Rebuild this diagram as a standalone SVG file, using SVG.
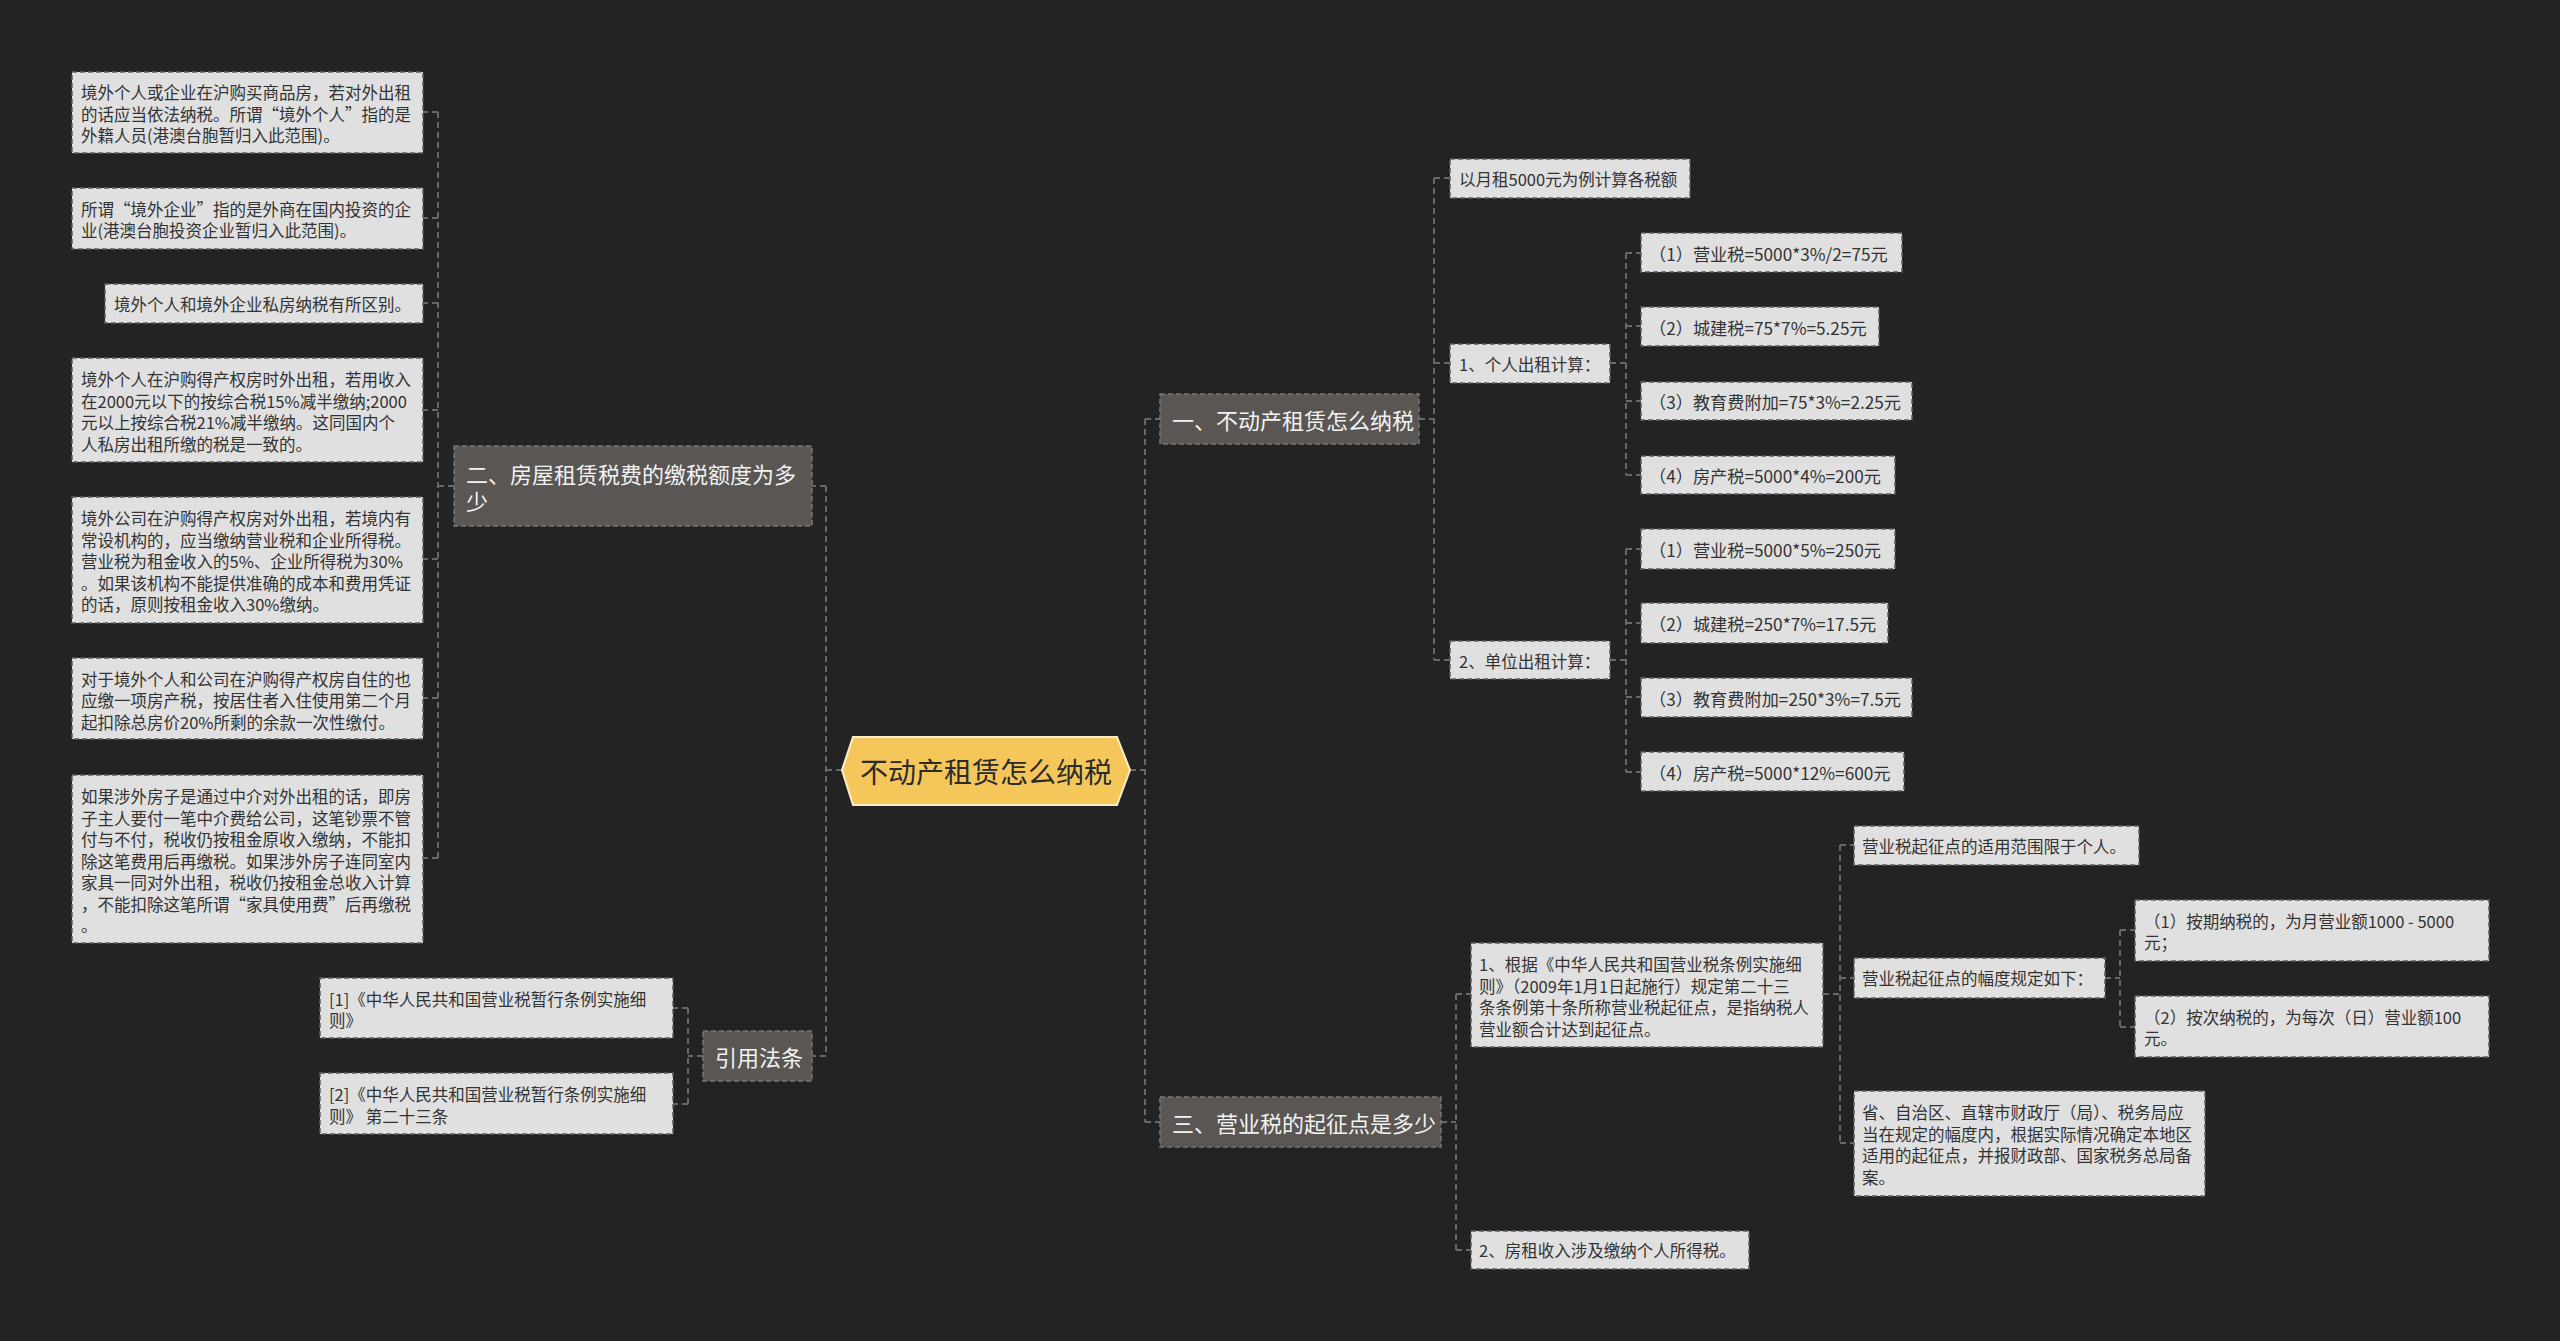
<svg xmlns="http://www.w3.org/2000/svg" width="2560" height="1341" viewBox="0 0 2560 1341">
<style>
.bg{fill:#232323}
.leaf{fill:#e0e0e0;stroke:#5e5e5e;stroke-width:1.5;stroke-dasharray:5 3}
.br{fill:#5a5653;stroke:#7a7672;stroke-width:1.5;stroke-dasharray:5 3}
.lt{font-family:"Noto Sans CJK SC","Noto Sans",sans-serif;font-size:16.5px;fill:#333;dominant-baseline:central}
.ft{font-size:17.2px}
.bt{font-family:"Noto Sans CJK SC","Noto Sans",sans-serif;font-size:22px;fill:#f2f2f2;dominant-baseline:central}
.ct{font-family:"Noto Sans CJK SC","Noto Sans",sans-serif;font-size:28px;fill:#2b2b2b;dominant-baseline:central}
.cn{fill:none;stroke:#686868;stroke-width:2;stroke-dasharray:6 4}
</style>
<rect class="bg" x="0" y="0" width="2560" height="1341"/>

<g id="connectors">
<path class="cn" d="M842 770 H826 M1130 770 H1145"/>
<path class="cn" d="M826 486 V1056 M826 486 H812 M826 1056 H812"/>
<path class="cn" d="M1145 419 V1122 M1145 419 H1160 M1145 1122 H1160"/>
<path class="cn" d="M454 486 H438 M438 112 V858 M438 112 H423 M438 218 H423 M438 303 H423 M438 410 H423 M438 559 H423 M438 698 H423 M438 858 H423"/>
<path class="cn" d="M703 1056 H688 M688 1008 V1104 M688 1008 H673 M688 1104 H673"/>
<path class="cn" d="M1419 419 H1434 M1434 178 V660 M1434 178 H1450 M1434 363 H1450 M1434 660 H1450"/>
<path class="cn" d="M1610 363 H1626 M1626 253 V475 M1626 253 H1641 M1626 326 H1641 M1626 401 H1641 M1626 475 H1641"/>
<path class="cn" d="M1610 660 H1626 M1626 549 V772 M1626 549 H1641 M1626 623 H1641 M1626 697 H1641 M1626 772 H1641"/>
<path class="cn" d="M1441 1122 H1456 M1456 994 V1250 M1456 994 H1471 M1456 1250 H1471"/>
<path class="cn" d="M1823 994 H1840 M1840 845 V1143 M1840 845 H1854 M1840 978 H1854 M1840 1143 H1854"/>
<path class="cn" d="M2105 978 H2120 M2120 930 V1027 M2120 930 H2135 M2120 1027 H2135"/>
</g>

<g id="center">
<polygon points="842,770 853,737 1117,737 1130,770 1117,805 853,805" fill="#f5c75b" stroke="#fbeec6" stroke-width="2"/>
<text class="ct" x="986" y="771" text-anchor="middle">不动产租赁怎么纳税</text>
</g>

<g id="b1">
<rect class="br" x="1160" y="394" width="259" height="50"/>
<text class="bt" x="1172" y="419">一、不动产租赁怎么纳税</text>
</g>
<g id="b2">
<rect class="br" x="454" y="446" width="358" height="80"/>
<text class="bt" x="466" y="473">二、房屋租赁税费的缴税额度为多</text>
<text class="bt" x="466" y="500">少</text>
</g>
<g id="b3">
<rect class="br" x="1160" y="1097" width="281" height="50"/>
<text class="bt" x="1172" y="1122">三、营业税的起征点是多少</text>
</g>
<g id="b4">
<rect class="br" x="703" y="1031" width="109" height="50"/>
<text class="bt" x="715" y="1056">引用法条</text>
</g>

<g id="l1">
<rect class="leaf" x="72" y="72" width="351" height="81"/>
<text class="lt" x="81" y="92">境外个人或企业在沪购买商品房，若对外出租</text>
<text class="lt" x="81" y="113.5">的话应当依法纳税。所谓“境外个人”指的是</text>
<text class="lt" x="81" y="135">外籍人员(港澳台胞暂归入此范围)。</text>
</g>
<g id="l2">
<rect class="leaf" x="72" y="188" width="351" height="61"/>
<text class="lt" x="81" y="208.5">所谓“境外企业”指的是外商在国内投资的企</text>
<text class="lt" x="81" y="230">业(港澳台胞投资企业暂归入此范围)。</text>
</g>
<g id="l3">
<rect class="leaf" x="105" y="284" width="318" height="39"/>
<text class="lt" x="114" y="304">境外个人和境外企业私房纳税有所区别。</text>
</g>
<g id="l4">
<rect class="leaf" x="72" y="358" width="351" height="104"/>
<text class="lt" x="81" y="379">境外个人在沪购得产权房时外出租，若用收入</text>
<text class="lt" x="81" y="400.5">在2000元以下的按综合税15%减半缴纳;2000</text>
<text class="lt" x="81" y="422">元以上按综合税21%减半缴纳。这同国内个</text>
<text class="lt" x="81" y="443.5">人私房出租所缴的税是一致的。</text>
</g>
<g id="l5">
<rect class="leaf" x="72" y="497" width="351" height="126"/>
<text class="lt" x="81" y="518">境外公司在沪购得产权房对外出租，若境内有</text>
<text class="lt" x="81" y="539.5">常设机构的，应当缴纳营业税和企业所得税。</text>
<text class="lt" x="81" y="561">营业税为租金收入的5%、企业所得税为30%</text>
<text class="lt" x="81" y="582.5">。如果该机构不能提供准确的成本和费用凭证</text>
<text class="lt" x="81" y="604">的话，原则按租金收入30%缴纳。</text>
</g>
<g id="l6">
<rect class="leaf" x="72" y="658" width="351" height="81"/>
<text class="lt" x="81" y="678.5">对于境外个人和公司在沪购得产权房自住的也</text>
<text class="lt" x="81" y="700">应缴一项房产税，按居住者入住使用第二个月</text>
<text class="lt" x="81" y="721.5">起扣除总房价20%所剩的余款一次性缴付。</text>
</g>
<g id="l7">
<rect class="leaf" x="72" y="775" width="351" height="168"/>
<text class="lt" x="81" y="796">如果涉外房子是通过中介对外出租的话，即房</text>
<text class="lt" x="81" y="817.5">子主人要付一笔中介费给公司，这笔钞票不管</text>
<text class="lt" x="81" y="839">付与不付，税收仍按租金原收入缴纳，不能扣</text>
<text class="lt" x="81" y="860.5">除这笔费用后再缴税。如果涉外房子连同室内</text>
<text class="lt" x="81" y="882">家具一同对外出租，税收仍按租金总收入计算</text>
<text class="lt" x="81" y="903.5">，不能扣除这笔所谓“家具使用费”后再缴税</text>
<text class="lt" x="81" y="925">。</text>
</g>
<g id="r1">
<rect class="leaf" x="320" y="978" width="353" height="60"/>
<text class="lt" x="329" y="998.5">[1]《中华人民共和国营业税暂行条例实施细</text>
<text class="lt" x="329" y="1020">则》</text>
</g>
<g id="r2">
<rect class="leaf" x="320" y="1073" width="353" height="61"/>
<text class="lt" x="329" y="1094">[2]《中华人民共和国营业税暂行条例实施细</text>
<text class="lt" x="329" y="1115.5">则》 第二十三条</text>
</g>

<g id="a0">
<rect class="leaf" x="1450" y="159" width="240" height="39"/>
<text class="lt" x="1459" y="179">以月租5000元为例计算各税额</text>
</g>
<g id="a1">
<rect class="leaf" x="1450" y="344" width="160" height="39"/>
<text class="lt" x="1459" y="364">1、个人出租计算：</text>
</g>
<g id="a2">
<rect class="leaf" x="1450" y="641" width="160" height="38"/>
<text class="lt" x="1459" y="661">2、单位出租计算：</text>
</g>
<g id="p1">
<rect class="leaf" x="1641" y="233" width="261" height="39"/>
<text class="lt ft" x="1649" y="253">（1）营业税=5000*3%/2=75元</text>
</g>
<g id="p2">
<rect class="leaf" x="1641" y="307" width="238" height="39"/>
<text class="lt ft" x="1649" y="327">（2）城建税=75*7%=5.25元</text>
</g>
<g id="p3">
<rect class="leaf" x="1641" y="382" width="271" height="38"/>
<text class="lt ft" x="1649" y="401">（3）教育费附加=75*3%=2.25元</text>
</g>
<g id="p4">
<rect class="leaf" x="1641" y="456" width="254" height="38"/>
<text class="lt ft" x="1649" y="475">（4）房产税=5000*4%=200元</text>
</g>
<g id="u1">
<rect class="leaf" x="1641" y="529" width="254" height="40"/>
<text class="lt ft" x="1649" y="549">（1）营业税=5000*5%=250元</text>
</g>
<g id="u2">
<rect class="leaf" x="1641" y="603" width="247" height="40"/>
<text class="lt ft" x="1649" y="623">（2）城建税=250*7%=17.5元</text>
</g>
<g id="u3">
<rect class="leaf" x="1641" y="678" width="271" height="39"/>
<text class="lt ft" x="1649" y="698">（3）教育费附加=250*3%=7.5元</text>
</g>
<g id="u4">
<rect class="leaf" x="1641" y="752" width="263" height="39"/>
<text class="lt ft" x="1649" y="772">（4）房产税=5000*12%=600元</text>
</g>

<g id="s1">
<rect class="leaf" x="1471" y="943" width="352" height="104"/>
<text class="lt" x="1479" y="964">1、根据《中华人民共和国营业税条例实施细</text>
<text class="lt" x="1479" y="985.5">则》（2009年1月1日起施行）规定第二十三</text>
<text class="lt" x="1479" y="1007">条条例第十条所称营业税起征点，是指纳税人</text>
<text class="lt" x="1479" y="1028.5">营业额合计达到起征点。</text>
</g>
<g id="s2">
<rect class="leaf" x="1471" y="1231" width="278" height="38"/>
<text class="lt" x="1479" y="1250">2、房租收入涉及缴纳个人所得税。</text>
</g>
<g id="t1">
<rect class="leaf" x="1854" y="826" width="285" height="39"/>
<text class="lt" x="1862" y="846">营业税起征点的适用范围限于个人。</text>
</g>
<g id="t2">
<rect class="leaf" x="1854" y="958" width="251" height="40"/>
<text class="lt" x="1862" y="978">营业税起征点的幅度规定如下：</text>
</g>
<g id="t3">
<rect class="leaf" x="1854" y="1091" width="351" height="105"/>
<text class="lt" x="1862" y="1112">省、自治区、直辖市财政厅（局）、税务局应</text>
<text class="lt" x="1862" y="1133.5">当在规定的幅度内，根据实际情况确定本地区</text>
<text class="lt" x="1862" y="1155">适用的起征点，并报财政部、国家税务总局备</text>
<text class="lt" x="1862" y="1176.5">案。</text>
</g>
<g id="q1">
<rect class="leaf" x="2135" y="900" width="354" height="61"/>
<text class="lt" x="2144" y="920.5">（1）按期纳税的，为月营业额1000 - 5000</text>
<text class="lt" x="2144" y="942">元；</text>
</g>
<g id="q2">
<rect class="leaf" x="2135" y="996" width="354" height="61"/>
<text class="lt" x="2144" y="1016.5">（2）按次纳税的，为每次（日）营业额100</text>
<text class="lt" x="2144" y="1038">元。</text>
</g>
</svg>
